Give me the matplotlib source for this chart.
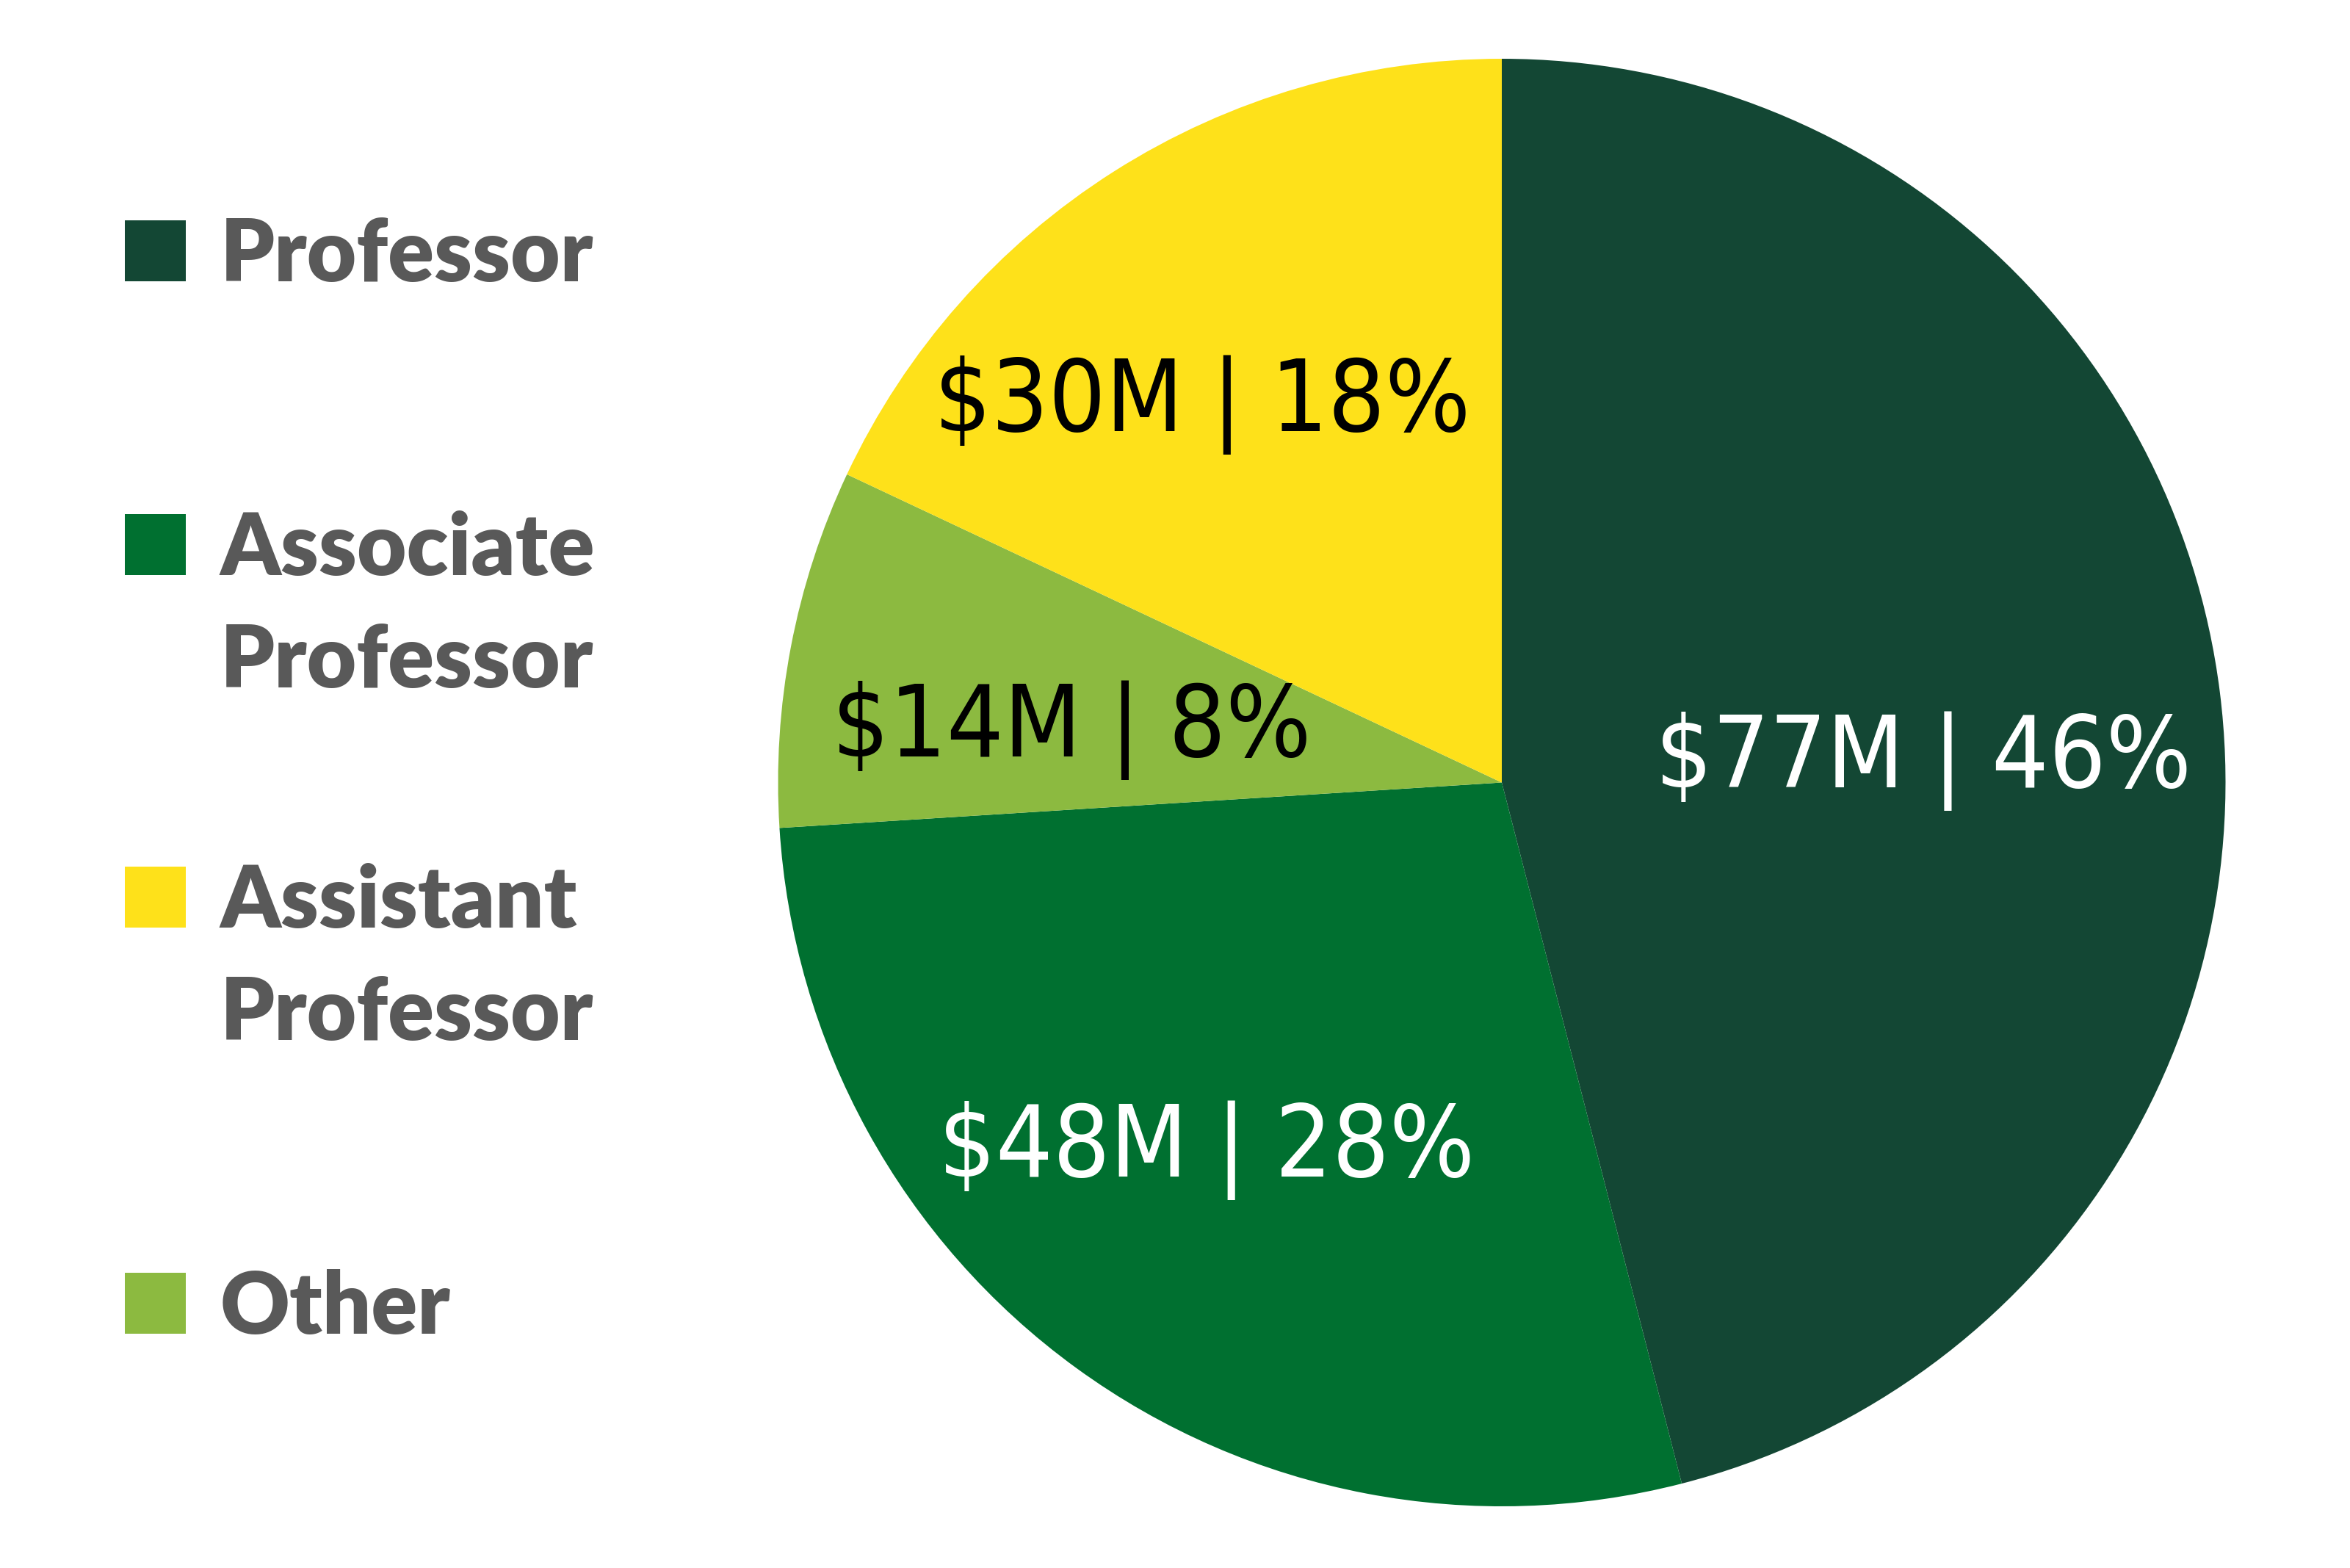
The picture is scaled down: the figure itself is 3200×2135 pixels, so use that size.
import matplotlib
matplotlib.use("Agg")
import matplotlib.pyplot as plt
from matplotlib.patches import Rectangle

# funding by rank, $M (pie order, clockwise from top)
pie_names = ["Professor", "Associate Professor", "Other", "Assistant Professor"]
pie_values = [77, 48, 14, 30]
pie_pcts = [46, 28, 8, 18]
pie_colors = ["#134734", "#007030", "#8CBA40", "#FEE11A"]
label_colors = ["white", "white", "black", "black"]

# legend order
legend_names = ["Professor", "Associate\nProfessor", "Assistant\nProfessor", "Other"]
legend_colors = ["#134734", "#007030", "#FEE11A", "#8CBA40"]

W, H = 3200, 2135
fig = plt.figure(figsize=(W / 100, H / 100), dpi=100)

ax = fig.add_axes([1059 / W, (H - 2051) / H, 1972 / W, 1971 / H])
# wedge sizes follow the printed percentages
wedges, _ = ax.pie(pie_pcts, colors=pie_colors, startangle=90, counterclock=False,
                   radius=1, wedgeprops=dict(linewidth=0))
ax.set_xlim(-1, 1)
ax.set_ylim(-1, 1)
ax.set_aspect("equal")
ax.axis("off")

label_pos = [(0.583, 0.03), (-0.408, -0.508), (-0.594, 0.072), (-0.414, 0.522)]
for v, p, c, (x, y) in zip(pie_values, pie_pcts, label_colors, label_pos):
    ax.text(x, y, f"${v}M | {p}%", ha="center", va="center", color=c,
            fontsize=98, family="DejaVu Sans", fontstretch="condensed")

# legend drawn by hand so spacing matches
sq_top = [300, 700, 1180, 1733]
sq = 83
for name, col, top in zip(legend_names, legend_colors, sq_top):
    fig.patches.append(Rectangle((170 / W, (H - top - sq) / H), sq / W, sq / H,
                                 transform=fig.transFigure, color=col, lw=0))
    for i, line in enumerate(name.split("\n")):
        base = top + sq + i * 153
        fig.text(300 / W, (H - base) / H, line, ha="left", va="baseline",
                 fontsize=84, family="Lato", fontweight="heavy", color="#595959")

fig.savefig("out.png", dpi=100, facecolor="white")
